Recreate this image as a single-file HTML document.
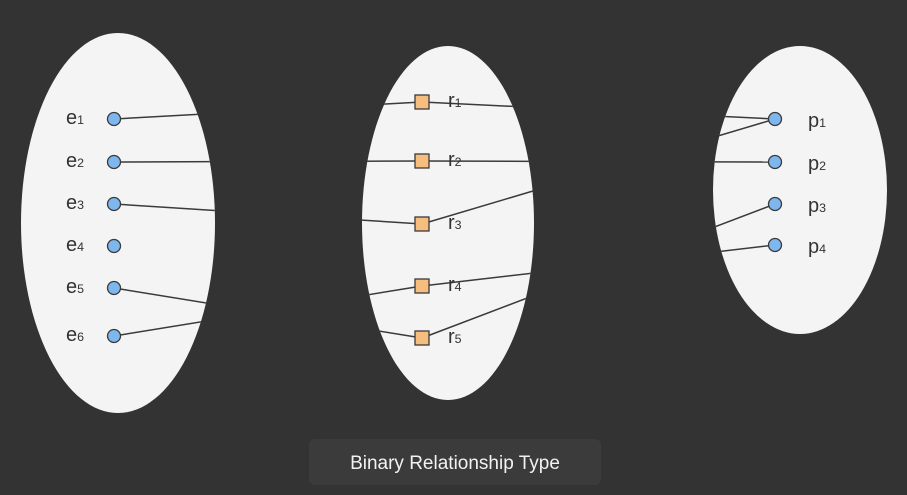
<!DOCTYPE html>
<html><head><meta charset="utf-8"><style>
html,body{margin:0;padding:0;background:#333333;width:907px;height:495px;overflow:hidden}
svg{display:block;font-family:"Liberation Sans",sans-serif}
</style></head><body>
<svg id="d" width="907" height="495">
<defs><clipPath id="cp">
<ellipse cx="118" cy="223" rx="97" ry="190"/>
<ellipse cx="448" cy="223" rx="86" ry="177"/>
<ellipse cx="800" cy="190" rx="87" ry="144"/>
</clipPath></defs>
<ellipse cx="118" cy="223" rx="97" ry="190" fill="#f4f4f4"/>
<ellipse cx="448" cy="223" rx="86" ry="177" fill="#f4f4f4"/>
<ellipse cx="800" cy="190" rx="87" ry="144" fill="#f4f4f4"/>
<g id="lines" clip-path="url(#cp)"></g>
<g id="nodes"></g>
<rect x="309" y="439" width="292" height="46" rx="6" fill="#3b3b3b"/>
<text x="455" y="469" text-anchor="middle" fill="#f2f2f2" font-size="19">Binary Relationship Type</text>
</svg>
<script>
const entities=[["e","1",119],["e","2",162],["e","3",204],["e","4",246],["e","5",288],["e","6",336]];
const relations=[["r","1",102],["r","2",161],["r","3",224],["r","4",286],["r","5",338]];
const participants=[["p","1",119],["p","2",162],["p","3",204],["p","4",245]];
const leftLinks=[[0,0],[1,1],[2,2],[4,4],[5,3]];
const rightLinks=[[0,0],[1,1],[2,0],[3,3],[4,2]];
const NS="http://www.w3.org/2000/svg";
const ex=114, rx=422, px=775;
const L=document.getElementById('lines'), N=document.getElementById('nodes');
function mk(t,a,p){const e=document.createElementNS(NS,t);for(const k in a)e.setAttribute(k,a[k]);p.appendChild(e);return e;}
function line(x1,y1,x2,y2){const l=mk('line',{x1,y1,x2,y2,stroke:'#3a3a3a','stroke-width':1.5},L);

}
leftLinks.forEach(([a,b])=>line(ex,entities[a][2],rx,relations[b][2]));
rightLinks.forEach(([a,b])=>line(rx,relations[a][2],px,participants[b][2]));
function label(x,y,d,s,fs){const t=mk('text',{x,y,fill:'#333','font-size':fs},N);


t.textContent=d;const ts=mk('tspan',{'font-size':fs*0.62},t);ts.textContent=s;}
entities.forEach(([d,s,y])=>{const c=mk('circle',{cx:ex,cy:y,r:6.5,fill:'#7db7ee',stroke:'#3a3a3a','stroke-width':1.3},N);


label(66,y+5,d,s,20);});
relations.forEach(([d,s,y])=>{const r=mk('rect',{x:rx-7,y:y-7,width:14,height:14,fill:'#f5bd7e',stroke:'#3a3a3a','stroke-width':1.3},N);


label(448,y+5,d,s,20);});
participants.forEach(([d,s,y])=>{const c=mk('circle',{cx:px,cy:y,r:6.5,fill:'#7db7ee',stroke:'#3a3a3a','stroke-width':1.3},N);


label(808,y+8,d,s,20);});
</script>
</body></html>
